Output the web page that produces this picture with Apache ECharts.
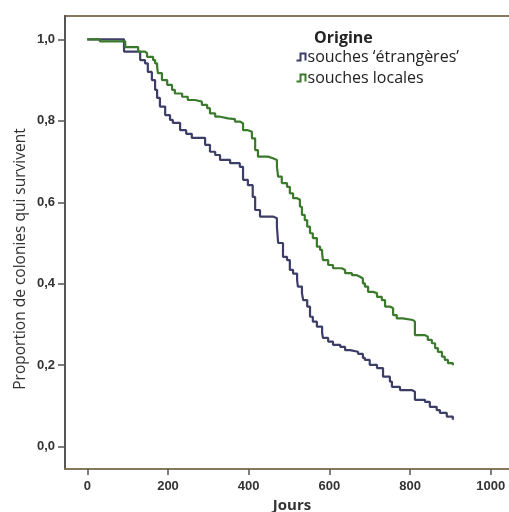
<!DOCTYPE html>
<html>
<head>
<meta charset="utf-8">
<script src="https://cdn.jsdelivr.net/npm/echarts@6/dist/echarts.min.js"></script>
<style>
  html, body { margin: 0; padding: 0; background: #fff; }
  #container { width: 509px; height: 512px; }
</style>
</head>
<body>
<div id="container"></div>
<script>
'use strict';

// Kaplan-Meier steps: [jours, proportion]
let etrangeres = [
  [0, 1.0], [91, 0.970], [131, 0.949], [143, 0.941], [150, 0.920], [160, 0.900],
  [168, 0.876], [173, 0.856], [180, 0.835], [193, 0.814], [205, 0.802], [212, 0.795],
  [230, 0.777], [245, 0.768], [259, 0.758], [292, 0.741], [304, 0.724], [317, 0.716],
  [329, 0.704], [354, 0.696], [378, 0.687], [386, 0.655], [398, 0.642], [410, 0.613],
  [416, 0.581], [428, 0.565], [460, 0.561], [470, 0.540], [473, 0.500], [485, 0.466],
  [495, 0.458], [502, 0.434], [510, 0.425], [520, 0.409], [522, 0.393], [532, 0.377],
  [535, 0.360], [545, 0.344], [552, 0.319], [559, 0.307], [569, 0.295], [582, 0.279],
  [584, 0.267], [597, 0.258], [609, 0.250], [627, 0.245], [639, 0.237], [651, 0.233],
  [671, 0.228], [683, 0.218], [688, 0.213], [700, 0.201], [718, 0.193], [733, 0.172],
  [750, 0.160], [755, 0.147], [775, 0.139], [805, 0.135], [812, 0.115], [837, 0.110],
  [849, 0.098], [866, 0.090], [874, 0.083], [891, 0.074], [906, 0.066]
];

let locales = [
  [0, 1.0], [31, 0.995], [94, 0.981], [126, 0.970], [143, 0.966], [148, 0.957],
  [163, 0.949], [168, 0.941], [173, 0.933], [175, 0.917], [185, 0.900], [198, 0.888],
  [210, 0.876], [217, 0.867], [235, 0.859], [249, 0.851], [267, 0.847], [284, 0.839],
  [297, 0.831], [304, 0.818], [317, 0.810], [329, 0.806], [349, 0.804], [366, 0.798],
  [378, 0.794], [386, 0.777], [398, 0.773], [408, 0.757], [416, 0.728], [423, 0.712],
  [448, 0.708], [460, 0.704], [470, 0.687], [473, 0.663], [482, 0.647], [495, 0.638],
  [502, 0.622], [510, 0.610], [520, 0.606], [527, 0.589], [532, 0.569], [539, 0.556],
  [545, 0.540], [552, 0.524], [559, 0.512], [569, 0.491], [577, 0.483], [582, 0.475],
  [584, 0.458], [597, 0.446], [609, 0.438], [631, 0.434], [639, 0.426], [656, 0.421],
  [668, 0.417], [676, 0.413], [683, 0.401], [688, 0.393], [696, 0.380], [708, 0.377],
  [718, 0.368], [730, 0.360], [738, 0.344], [750, 0.340], [758, 0.323], [767, 0.315],
  [782, 0.311], [807, 0.307], [812, 0.274], [837, 0.270], [844, 0.262], [854, 0.254],
  [862, 0.242], [869, 0.233], [879, 0.221], [886, 0.213], [894, 0.205], [906, 0.200]
];

let xTicks = [0, 200, 400, 600, 800, 1000];
let yTicks = [0, 0.2, 0.4, 0.6, 0.8, 1.0];
let seriesNames = ["souches \u2018\u00e9trang\u00e8res\u2019", 'souches locales'];
let seriesColors = ['#3d3e68', '#3b7a2c'];

let frameColor = '#85785c';
let stepIcon = 'path://M0,8 L4,8 L4,1 L9,1 L9,8';

var dom = document.getElementById('container');
var myChart = echarts.init(dom);

myChart.setOption({
  animation: false,
  title: {
    text: 'Origine',
    left: 309,
    top: 25,
    textStyle: { fontFamily: 'Open Sans', fontSize: 16, fontWeight: 'bold', color: '#222' }
  },
  legend: {
    orient: 'vertical',
    left: 289,
    top: 44,
    itemGap: 5,
    itemWidth: 11,
    itemHeight: 7,
    icon: stepIcon,
    textStyle: { fontFamily: 'Open Sans', fontSize: 16, color: '#222', padding: [0, 0, 0, -4] },
    data: [
      { name: seriesNames[0], itemStyle: { color: 'none', borderColor: seriesColors[0], borderWidth: 2 } },
      { name: seriesNames[1], itemStyle: { color: 'none', borderColor: seriesColors[1], borderWidth: 2 } }
    ]
  },
  grid: {
    left: 65,
    top: 16,
    right: -10,
    bottom: 43,
    outerBoundsMode: 'none',
    show: true,
    borderColor: frameColor,
    borderWidth: 2,
    backgroundColor: '#fff'
  },
  xAxis: {
    type: 'value',
    min: -55.3,
    max: 1070,
    name: 'Jours',
    nameLocation: 'middle',
    nameGap: 26,
    nameTextStyle: { fontFamily: 'Open Sans', fontSize: 15, fontWeight: 'bold', color: '#333' },
    splitLine: { show: false },
    axisLine: { onZero: false, lineStyle: { color: frameColor, width: 2 } },
    axisTick: { customValues: xTicks, length: 6, lineStyle: { color: '#555', width: 1.5 } },
    axisLabel: {
      customValues: xTicks,
      margin: 11,
      fontFamily: 'Liberation Sans',
      fontSize: 13,
      fontWeight: 'bold',
      color: '#333',
      formatter: function (v) { return String(v); }
    }
  },
  yAxis: {
    type: 'value',
    min: -0.0547,
    max: 1.0572,
    splitLine: { show: false },
    axisLine: { show: true, onZero: false, lineStyle: { color: '#555', width: 2 } },
    axisTick: { show: true, customValues: yTicks, length: 7, lineStyle: { color: '#555', width: 1.5 } },
    axisLabel: {
      customValues: yTicks,
      margin: 10,
      fontFamily: 'Liberation Sans',
      fontSize: 13,
      fontWeight: 'bold',
      color: '#333',
      formatter: function (v) { return v.toFixed(1).replace('.', ','); }
    }
  },
  graphic: [{
    type: 'text',
    x: 29,
    y: 259,
    rotation: Math.PI / 2,
    style: {
      text: 'Proportion de colonies qui survivent',
      fontFamily: 'Open Sans',
      fontSize: 15.5,
      fill: '#333',
      align: 'center',
      verticalAlign: 'bottom'
    }
  }],
  series: [{
    name: seriesNames[0],
    type: 'line',
    step: 'end',
    symbol: 'none',
    data: etrangeres,
    color: seriesColors[0],
    lineStyle: { width: 2.2, color: seriesColors[0] }
  }, {
    name: seriesNames[1],
    type: 'line',
    step: 'end',
    symbol: 'none',
    data: locales,
    color: seriesColors[1],
    lineStyle: { width: 2.2, color: seriesColors[1] }
  }]
});
</script>
</body>
</html>
